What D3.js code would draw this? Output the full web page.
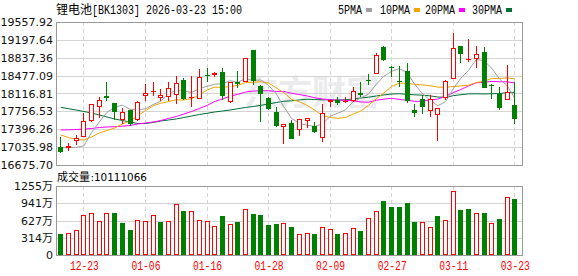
<!DOCTYPE html>
<html>
<head>
<meta charset="utf-8">
<script src="https://cdn.jsdelivr.net/npm/d3@7"></script>
<style>
  body { margin: 0; background: #fff; }
  svg { display: block; }
</style>
</head>
<body>
<svg id="chart" width="578" height="276"></svg>
<script>
// ---- data ----
const dates = ["12-18","12-19","12-22","12-23","12-24","12-25","12-26","12-29","12-30","12-31",
  "01-05","01-06","01-07","01-08","01-09","01-12","01-13","01-14","01-15","01-16",
  "01-19","01-20","01-21","01-22","01-23","01-26","01-27","01-28","01-29","01-30",
  "02-02","02-03","02-04","02-05","02-06","02-09","02-10","02-11","02-12","02-13",
  "02-24","02-25","02-26","02-27","03-02","03-03","03-04","03-05","03-06","03-09",
  "03-10","03-11","03-12","03-13","03-16","03-17","03-18","03-19","03-20","03-23"];

const opens = [17038,17024,17153,17234,17557,17851,18066,17919,17583,17778,
  17583,18060,18160,18032,18052,18087,18389,18040,18012,18495,
  18490,18544,17939,18355,18349,18994,18268,18020,17744,17448,
  17528,17381,17563,17462,17226,17946,17986,17965,17966,18133,
  18395,18510,19060,18660,18372,18570,17784,18006,17770,17684,
  18020,18403,19074,18800,18818,18947,18280,18101,17986,17885];
const highs = [17246,17113,17280,17718,17905,18052,18349,17925,17819,17785,
  17966,18308,18349,18201,18355,18470,18423,18470,18611,18625,
  18556,18637,18350,18570,18830,19000,18288,18040,17839,17500,
  17583,17605,17632,17549,17899,17990,18052,18040,18254,18343,
  18510,18927,19074,18671,18671,18726,17905,18087,18087,17822,
  18389,19342,19078,19215,19074,19048,18308,18254,18691,18340];
const lows = [16925,16964,17085,17230,17550,17617,17966,17583,17496,17461,
  17570,17966,18066,17966,17966,17905,17986,17839,18005,18355,
  18455,17986,17935,18222,18345,18288,17549,17784,17448,17099,
  17195,17266,17415,17315,17145,17851,17885,17931,17946,18040,
  18282,18505,18766,18449,18248,17925,17649,17704,17649,17166,
  17986,18400,18738,18758,18625,18222,18000,17784,17982,17496];
const closes = [16928,17059,17214,17557,17899,17986,18026,17750,17738,17496,
  17939,18121,18175,18081,18234,18322,18006,18052,18443,18490,
  18524,18073,18343,18302,18826,18369,18107,17798,17462,17496,
  17200,17603,17629,17347,17718,17986,17919,17972,18167,18093,
  18389,18893,18792,18657,18366,17966,17718,17851,18000,17819,
  18369,19028,18913,18806,18907,18234,18274,17831,18141,17609];

const ma5 = [17024,17024,17032,17060,17331,17543,17736,17844,17880,17799,
  17790,17809,17894,17962,18110,18187,18164,18139,18211,18263,
  18303,18316,18375,18346,18414,18383,18389,18280,18112,17846,
  17613,17512,17478,17455,17499,17657,17720,17788,17952,18027,
  18108,18303,18467,18565,18619,18535,18300,18112,17980,17871,
  17951,18213,18426,18587,18805,18778,18627,18410,18277,18018];
const ma10 = [17280,17230,17190,17180,17240,17321,17371,17421,17502,17565,
  17666,17773,17869,17921,17955,17988,17986,18016,18087,18186,
  18245,18240,18257,18279,18338,18343,18353,18328,18229,18130,
  17998,17951,17879,17784,17673,17635,17616,17633,17704,17763,
  17882,18011,18128,18259,18323,18321,18301,18289,18273,18245,
  18243,18257,18269,18284,18338,18365,18420,18418,18432,18411];
const ma20 = [17381,17385,17391,17401,17411,17431,17442,17448,17458,17472,
  17502,17522,17542,17572,17613,17653,17704,17754,17815,17876,
  17956,18006,18063,18100,18146,18166,18170,18172,18158,18158,
  18121,18095,18068,18031,18006,17989,17984,17980,17967,17947,
  17940,17981,18003,18021,17998,17978,17959,17961,17988,18004,
  18063,18134,18198,18271,18331,18343,18361,18354,18352,18328];
const ma30 = [17839,17811,17784,17754,17724,17684,17643,17603,17573,17542,
  17512,17512,17532,17563,17583,17603,17633,17663,17694,17718,
  17744,17764,17784,17810,17835,17855,17879,17905,17935,17961,
  17970,17988,18002,17995,17989,17989,17985,17992,18007,18027,
  18042,18067,18088,18107,18112,18100,18090,18083,18069,18046,
  18041,18073,18092,18109,18111,18107,18112,18114,18136,18140];

// volume in 万 (10k)
const volumes = [382,400,449,722,758,613,758,764,576,455,
  631,613,722,600,613,928,800,794,631,613,
  522,709,558,600,831,746,728,546,564,576,
  509,382,400,382,503,473,382,400,491,436,
  667,794,982,873,873,946,600,600,503,709,
  631,1157,818,837,764,764,582,655,1049,1011];

const priceTicks = [16675.70,17035.98,17396.26,17756.53,18116.81,18477.09,18837.36,19197.64,19557.92];
const volTicks = [0,314,627,941,1255];
const xTickDates = ["12-23","01-06","01-16","01-28","02-09","02-27","03-11","03-23"];

const titleName = "锂电池";
const titleRest = "[BK1303] 2026-03-23 15:00";
const volTotal = "10111066";
const maNames = ["5PMA","10PMA","20PMA","30PMA"];
const maColors = ["#a0a0a0","#f5a300","#ff00ff","#00703a"];

// ---- chart ----
const UP = "#ff0000", DOWN = "#008000";
const GRID = "#d4d4d4", FRAME = "#999";
const left = 56, right = 522;
const pTop = 22, pBottom = 165, vTop = 186, vBottom = 255;

const svg = d3.select("#chart");

const x = d3.scalePoint().domain(dates).range([56.45, 518.15]).padding(0.5);
const y = d3.scaleLinear().domain([priceTicks[0], priceTicks[priceTicks.length - 1]]).range([pBottom, pTop]);
const vy = d3.scaleLinear().domain([0, 1255]).range([vBottom, vTop]);
const cx = d => Math.round(x(d));

// watermark
svg.append("text")
  .attr("x", 244).attr("y", 105)
  .attr("font-family", "Noto Sans CJK SC")
  .attr("font-size", 34).attr("font-weight", "bold")
  .attr("fill", "#ebebee")
  .text("东方财富");

// horizontal grids
svg.append("g").selectAll("line").data(priceTicks).join("line")
  .attr("x1", left).attr("x2", right)
  .attr("y1", d => Math.round(y(d)) + 0.5).attr("y2", d => Math.round(y(d)) + 0.5)
  .attr("stroke", GRID);
svg.append("g").selectAll("line").data(volTicks).join("line")
  .attr("x1", left).attr("x2", right)
  .attr("y1", d => Math.round(vy(d)) + 0.5).attr("y2", d => Math.round(vy(d)) + 0.5)
  .attr("stroke", GRID);

// vertical dashed grids
[[pTop, pBottom], [vTop, vBottom]].forEach(([t, b]) => {
  svg.append("g").selectAll("line").data(xTickDates).join("line")
    .attr("x1", d => cx(d) + 0.5).attr("x2", d => cx(d) + 0.5)
    .attr("y1", t).attr("y2", b)
    .attr("stroke", GRID).attr("stroke-dasharray", "4,3");
});

// frames
[[pTop, pBottom], [vTop, vBottom]].forEach(([t, b]) => {
  svg.append("rect")
    .attr("x", left + 0.5).attr("y", t + 0.5)
    .attr("width", right - left).attr("height", b - t)
    .attr("fill", "none").attr("stroke", FRAME);
});

// moving averages
const maSeries = [ma5, ma10, ma20, ma30];
maSeries.slice().reverse().forEach((ma, k) => {
  const idx = maSeries.length - 1 - k;
  svg.append("path")
    .datum(ma)
    .attr("fill", "none")
    .attr("stroke", maColors[idx])
    .attr("stroke-width", 1)
    .attr("d", d3.line().x((v, i) => x(dates[i]) + 0.5).y(v => y(v)));
});

// candles
const candles = dates.map((d, i) => ({ d, o: opens[i], h: highs[i], l: lows[i], c: closes[i] }));
const cg = svg.append("g").attr("shape-rendering", "crispEdges");
candles.forEach(k => {
  const up = k.c >= k.o;
  const col = up ? UP : DOWN;
  const xm = cx(k.d);
  const yTop = Math.round(y(Math.max(k.o, k.c)));
  const yBot = Math.max(yTop + 1, Math.round(y(Math.min(k.o, k.c))));
  const yH = Math.round(y(k.h)), yL = Math.round(y(k.l));
  if (up) {
    if (yH < yTop) cg.append("line").attr("x1", xm + 0.5).attr("x2", xm + 0.5).attr("y1", yH).attr("y2", yTop).attr("stroke", col);
    if (yL > yBot) cg.append("line").attr("x1", xm + 0.5).attr("x2", xm + 0.5).attr("y1", yBot).attr("y2", yL).attr("stroke", col);
    if (yBot - yTop <= 1) {
      cg.append("rect").attr("x", xm - 2).attr("y", yTop).attr("width", 5).attr("height", 1).attr("fill", col);
    } else {
      cg.append("rect").attr("x", xm - 1.5).attr("y", yTop + 0.5).attr("width", 4).attr("height", yBot - yTop - 1)
        .attr("fill", "#fff").attr("stroke", col);
    }
  } else {
    cg.append("line").attr("x1", xm + 0.5).attr("x2", xm + 0.5).attr("y1", yH).attr("y2", yL).attr("stroke", col);
    cg.append("rect").attr("x", xm - 2).attr("y", yTop).attr("width", 5).attr("height", yBot - yTop).attr("fill", col);
  }
});

// volume bars, coloured by close vs previous close
const vg = svg.append("g").attr("shape-rendering", "crispEdges");
volumes.forEach((v, i) => {
  const ref = i === 0 ? opens[0] : closes[i - 1];
  const up = closes[i] >= ref;
  const xm = cx(dates[i]);
  const yt = Math.round(vy(v));
  if (up) {
    vg.append("rect").attr("x", xm - 1.5).attr("y", yt + 0.5).attr("width", 4).attr("height", vBottom - yt - 1)
      .attr("fill", "#fff").attr("stroke", UP);
  } else {
    vg.append("rect").attr("x", xm - 2).attr("y", yt).attr("width", 5).attr("height", vBottom - yt).attr("fill", DOWN);
  }
});

// axes
const labelFont = "DejaVu Sans, Noto Sans CJK SC, sans-serif";
const yAxis = svg.append("g").attr("transform", `translate(${left},0)`)
  .call(d3.axisLeft(y).tickValues(priceTicks).tickFormat(d => d.toFixed(2)).tickSize(0).tickPadding(3));
const vAxis = svg.append("g").attr("transform", `translate(${left},0)`)
  .call(d3.axisLeft(vy).tickValues(volTicks).tickFormat(d => d === 0 ? "0" : d + "万").tickSize(0).tickPadding(3));
[yAxis, vAxis].forEach(g => {
  g.select(".domain").remove();
  g.selectAll("text").attr("font-family", labelFont).attr("font-size", 11).attr("fill", "#111");
});

const xAxis = svg.append("g").attr("transform", `translate(0.5,${vBottom})`)
  .call(d3.axisBottom(x).tickValues(xTickDates).tickSize(0).tickPadding(6));
xAxis.select(".domain").remove();
xAxis.selectAll("text")
  .attr("font-family", "Liberation Mono, monospace").attr("font-size", 12)
  .attr("fill", UP)
  .attr("textLength", 29).attr("lengthAdjust", "spacingAndGlyphs");

// title
svg.append("text").attr("x", 56).attr("y", 14)
  .attr("font-family", "Noto Sans CJK SC").attr("font-size", 12).attr("fill", "#000")
  .text(titleName);
svg.append("text").attr("x", 92).attr("y", 14)
  .attr("font-family", "Liberation Mono, monospace").attr("font-size", 12).attr("fill", "#000")
  .attr("textLength", titleRest.length * 6).attr("lengthAdjust", "spacingAndGlyphs")
  .text(titleRest);

// legend
const legendX = [338, 380, 425, 472];
maNames.forEach((n, i) => {
  svg.append("text").attr("x", legendX[i]).attr("y", 14)
    .attr("font-family", "Liberation Mono, monospace").attr("font-size", 12).attr("fill", "#000")
    .attr("textLength", n.length * 6).attr("lengthAdjust", "spacingAndGlyphs")
    .text(n);
  svg.append("rect").attr("x", legendX[i] + n.length * 6 + 4).attr("y", 8)
    .attr("width", 6).attr("height", 4).attr("fill", maColors[i]);
});

// volume label
svg.append("text").attr("x", 57).attr("y", 181)
  .attr("font-family", "Noto Sans CJK SC").attr("font-size", 11).attr("fill", "#000")
  .text("成交量");
svg.append("text").attr("x", 90.5).attr("y", 181)
  .attr("font-family", "DejaVu Sans, sans-serif").attr("font-size", 11).attr("fill", "#000")
  .text(":");
svg.append("text").attr("x", 94).attr("y", 181)
  .attr("font-family", "DejaVu Sans, sans-serif").attr("font-size", 11).attr("fill", "#000")
  .attr("textLength", 53).attr("lengthAdjust", "spacingAndGlyphs")
  .text(volTotal);
</script>
</body>
</html>
